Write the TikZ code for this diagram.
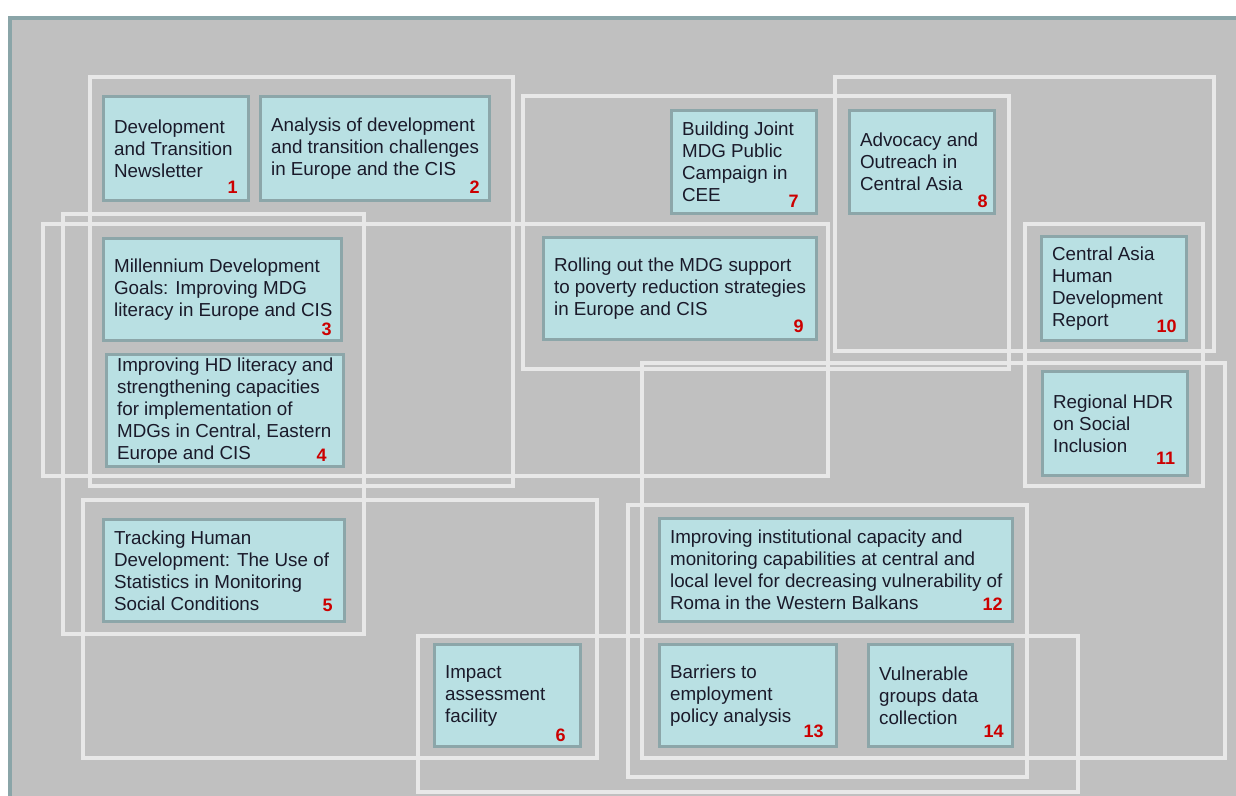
\documentclass[tikz,border=0pt]{standalone}
\usepackage{fontspec}
\setmainfont{Liberation Sans}
\usetikzlibrary{fit,calc}
\definecolor{panel}{HTML}{C0C0C0}
\definecolor{frameline}{HTML}{8AA5A8}
\definecolor{groupline}{HTML}{E8E8E8}
\definecolor{boxfill}{HTML}{B9E0E3}
\definecolor{boxline}{HTML}{8CA6A9}
\definecolor{textcol}{HTML}{1A1A2A}
\definecolor{numred}{HTML}{CC0000}

\begin{document}
\begin{tikzpicture}[x=0.75pt,y=-0.75pt,
  group/.style={draw=groupline,line width=2.3pt},
  box/.style={draw=boxline,fill=boxfill,line width=2.5pt,inner sep=0pt},
  txt/.style={anchor=west,inner sep=0pt,align=left,text=textcol,
    font=\fontsize{14.1}{16.5}\selectfont},
  num/.style={text=numred,inner sep=0pt,
    font=\fontsize{13.5}{16}\selectfont\bfseries}]
\useasboundingbox (0,0) rectangle (1236,796);
\clip (0,0) rectangle (1236,796);
\fill[white] (0,0) rectangle (1236,796);
% grey panel with its frame
\draw[fill=panel,draw=frameline,line width=3pt] (10,18) rectangle (1250,810);

% programme group outlines
\draw[group] (90,77) rectangle (513,486);
\draw[group] (63,214) rectangle (364,634);
\draw[group] (43,224) rectangle (828,476);
\draw[group] (523,96) rectangle (1009,369);
\draw[group] (835,77) rectangle (1214,351);
\draw[group] (1025,224) rectangle (1203,486);
\draw[group] (642,363) rectangle (1225,758);
\draw[group] (83,500) rectangle (597,758);
\draw[group] (628,505) rectangle (1027,777);
\draw[group] (418,636) rectangle (1078,792);

% project boxes
\node[box,fit={(103.5,96.5) (248.5,200.5)}] (b1) {};
\node[txt] (t1) at ([xshift=9pt]b1.west) {Development\\and Transition\\Newsletter};
\node[num] (n1) at ($(b1.south east)+(-17.5,-14.5)$) {1};

\node[box,fit={(260.5,96.5) (489.5,200.5)}] (b2) {};
\node[txt] (t2) at ([xshift=9pt]b2.west) {Analysis of development\\and transition challenges\\in Europe and the CIS};
\node[num] (n2) at ($(b2.south east)+(-16.5,-14.5)$) {2};

\node[box,fit={(103.5,238.5) (341.5,340.5)}] (b3) {};
\node[txt] (t3) at ([xshift=9pt]b3.west) {Millennium Development\\Goals: Improving MDG\\literacy in Europe and CIS};
\node[num] (n3) at ($(b3.south east)+(-16.5,-12.5)$) {3};

\node[box,fit={(106.5,354.5) (343.5,466.5)}] (b4) {};
\node[txt] (t4) at ([xshift=9pt]b4.west) {Improving HD literacy and\\strengthening capacities\\for implementation of\\MDGs in Central, Eastern\\Europe and CIS};
\node[num] (n4) at ($(b4.south east)+(-23.5,-12.5)$) {4};

\node[box,fit={(103.5,519.5) (344.5,621.5)}] (b5) {};
\node[txt] (t5) at ([xshift=9pt]b5.west) {Tracking Human\\Development: The Use of\\Statistics in Monitoring\\Social Conditions};
\node[num] (n5) at ($(b5.south east)+(-18.5,-17.5)$) {5};

\node[box,fit={(434.5,644.5) (580.5,746.5)}] (b6) {};
\node[txt] (t6) at ([xshift=9pt]b6.west) {Impact\\assessment\\facility};
\node[num] (n6) at ($(b6.south east)+(-21.5,-12.5)$) {6};

\node[box,fit={(671.5,110.5) (816.5,213.5)}] (b7) {};
\node[txt] (t7) at ([xshift=9pt]b7.west) {Building Joint\\MDG Public\\Campaign in\\CEE};
\node[num] (n7) at ($(b7.south east)+(-24.5,-13.5)$) {7};

\node[box,fit={(849.5,110.5) (994.5,213.5)}] (b8) {};
\node[txt] (t8) at ([xshift=9pt]b8.west) {Advocacy and\\Outreach in\\Central Asia};
\node[num] (n8) at ($(b8.south east)+(-13.5,-13.5)$) {8};

\node[box,fit={(543.5,237.5) (816.5,339.5)}] (b9) {};
\node[txt] (t9) at ([xshift=9pt]b9.west) {Rolling out the MDG support\\to poverty reduction strategies\\in Europe and CIS};
\node[num] (n9) at ($(b9.south east)+(-19.5,-14.5)$) {9};

\node[box,fit={(1041.5,236.5) (1186.5,340.5)}] (b10) {};
\node[txt] (t10) at ([xshift=9pt]b10.west) {Central Asia\\Human\\Development\\Report};
\node[num] (n10) at ($(b10.south east)+(-21.5,-15.5)$) {10};

\node[box,fit={(1042.5,371.5) (1187.5,475.5)}] (b11) {};
\node[txt] (t11) at ([xshift=9pt]b11.west) {Regional HDR\\on Social\\Inclusion};
\node[num] (n11) at ($(b11.south east)+(-23.5,-18.5)$) {11};

\node[box,fit={(659.5,518.5) (1012.5,621.5)}] (b12) {};
\node[txt] (t12) at ([xshift=9pt]b12.west) {Improving institutional capacity and\\monitoring capabilities at central and\\local level for decreasing vulnerability of\\Roma in the Western Balkans};
\node[num] (n12) at ($(b12.south east)+(-21.5,-18.5)$) {12};

\node[box,fit={(659.5,644.5) (836.5,746.5)}] (b13) {};
\node[txt] (t13) at ([xshift=9pt]b13.west) {Barriers to\\employment\\policy analysis};
\node[num] (n13) at ($(b13.south east)+(-24.5,-16.5)$) {13};

\node[box,fit={(868.5,644.5) (1012.5,746.5)}] (b14) {};
\node[txt] (t14) at ([xshift=9pt]b14.west) {Vulnerable\\groups data\\collection};
\node[num] (n14) at ($(b14.south east)+(-20.5,-16.5)$) {14};
\end{tikzpicture}
\end{document}
